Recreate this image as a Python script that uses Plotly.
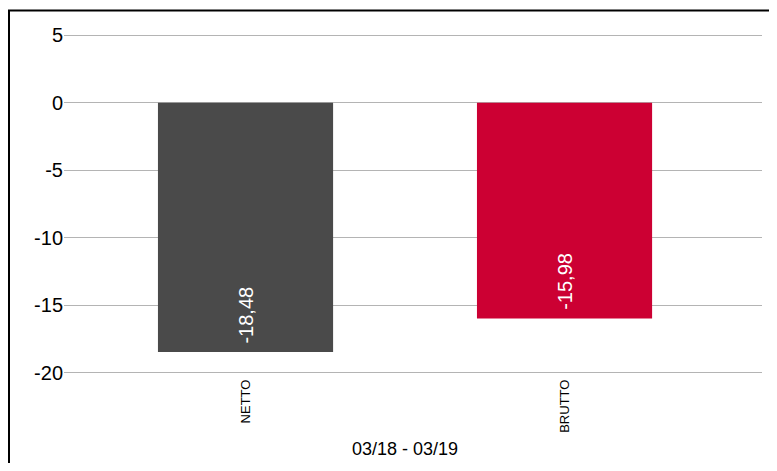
import plotly.graph_objects as go

categories = ["NETTO", "BRUTTO"]
values = [-18.48, -15.98]
value_labels = ["-18,48", "-15,98"]
bar_colors = ["#4a4a4a", "#cc0033"]
y_ticks = [5, 0, -5, -10, -15, -20]
x_title = "03/18 - 03/19"

FONT = "Liberation Sans, Arial, Helvetica, sans-serif"

# page body has an 8px margin; figure is sized so the page never scrolls
OFF = 8
W, H = 777 - 2 * OFF, 471 - 2 * OFF
Y_MIN, Y_MAX, Y_PAD = -20, 5, 0.25
PX_PER_UNIT = (373 - 35) / (Y_MAX - Y_MIN)
PLOT_L, PLOT_R = 64, 762  # screen pixels
PLOT_T = 35 - Y_PAD * PX_PER_UNIT
PLOT_B = 373 + Y_PAD * PX_PER_UNIT
ML, MT = PLOT_L - OFF, PLOT_T - OFF
MR, MB = W - (PLOT_R - OFF), H - (PLOT_B - OFF)
PW, PH = W - ML - MR, H - MT - MB

def px_x(p):
    return (p - OFF - ML) / PW

def px_y(p):
    return (H - MB - (p - OFF)) / PH

fig = go.Figure()
fig.add_trace(go.Bar(
    x=categories, y=values,
    marker=dict(color=bar_colors, line=dict(width=0)),
    width=0.549,
    text=["\u00a0" + t for t in value_labels],
    textposition="inside", insidetextanchor="end",
    textangle=-90,
    textfont=dict(family=FONT, size=20, color="white"),
    cliponaxis=False,
    hoverinfo="skip",
))

fig.update_layout(
    width=W, height=H,
    margin=dict(l=ML, r=MR, t=MT, b=MB, pad=0),
    paper_bgcolor="white", plot_bgcolor="white",
    showlegend=False,
    font=dict(family=FONT, color="black"),
    xaxis=dict(
        type="category", range=[-0.569, 1.619],
        showgrid=False, zeroline=False, showline=False,
        tickangle=-90, tickfont=dict(size=13, family=FONT, color="black"),
        ticks="", fixedrange=True,
    ),
    yaxis=dict(
        range=[Y_MIN - Y_PAD, Y_MAX + Y_PAD],
        tickvals=y_ticks, ticktext=[str(v) for v in y_ticks],
        showgrid=True, gridcolor="#b4b4b4", gridwidth=1,
        zeroline=False, showline=False, ticks="",
        tickfont=dict(size=20, family=FONT, color="black"),
        fixedrange=True,
    ),
    shapes=[dict(
        type="rect", xref="paper", yref="paper",
        x0=px_x(9), x1=px_x(800), y0=px_y(500), y1=px_y(10),
        line=dict(color="black", width=2), fillcolor="rgba(0,0,0,0)",
        layer="above",
    )],
    annotations=[dict(
        text=x_title, xref="x", yref="paper", x=0.5, y=px_y(450),
        xanchor="center", yanchor="middle", showarrow=False,
        font=dict(size=18, family=FONT, color="black"),
    )],
)

fig.write_html("out.html")
